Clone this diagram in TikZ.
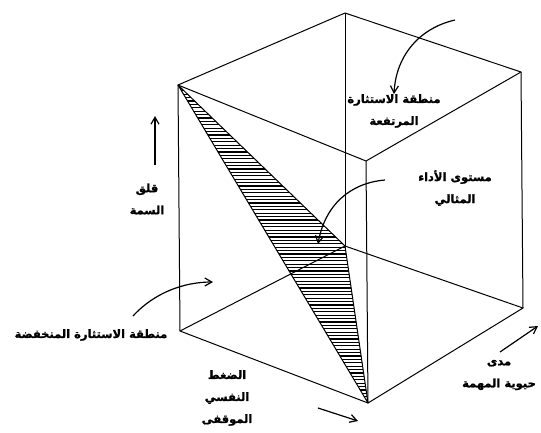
\documentclass[tikz,border=0pt]{standalone}
\usepackage{fontspec}
\usetikzlibrary{arrows.meta}
\newfontfamily\arabicfont[Script=Arabic, BoldFont={DejaVu Sans Bold}, BoldFeatures={FakeBold=1.2}]{DejaVu Sans}
\TeXXeTstate=1
\newcommand{\artext}[1]{\beginR #1\endR}
\tikzset{
	edge line/.style={line width=1pt, line join=round},
	hatch line/.style={line width=1.1pt},
	axis arrow/.style={line width=1.2pt, -{Straight Barb[length=7pt,width=8pt]}},
	ar label/.style={font=\arabicfont\bfseries\fontsize{11.5}{22}\selectfont, align=center, inner sep=0pt},
}
\begin{document}
\begin{tikzpicture}[x=1pt, y=-1pt]
	\useasboundingbox (0,0) rectangle (541,432);
	\coordinate (tl) at (178,85);
	\coordinate (tb) at (345,13);
	\coordinate (tr) at (521,72);
	\coordinate (tf) at (366,161);
	\coordinate (bl) at (180,331);
	\coordinate (bb) at (345,246);
	\coordinate (br) at (523,308);
	\coordinate (bf) at (368,403);
	\begin{scope}
		\clip (tl) -- (bb) -- (bf) -- cycle;
		\foreach \y in {84,87.4,...,406}
			\draw[hatch line] (170,\y) -- (380,\y);
	\end{scope}
	\draw[edge line] (tl) -- (bb) -- (bf) -- cycle;
	\draw[edge line] (tl) -- (tb) -- (tr) -- (tf) -- cycle;
	\draw[edge line] (bl) -- (bb) -- (br) -- (bf) -- cycle;
	\draw[edge line] (tl) -- (bl);
	\draw[edge line] (tb) -- (bb);
	\draw[edge line] (tr) -- (br);
	\draw[edge line] (tf) -- (bf);
	\node[ar label, anchor=north] (high) at (394,94) {\artext{منطقة الاستثارة}\\\artext{المرتفعة}};
	\node[ar label] (optimal) at (455,188) {\artext{مستوى الأداء}\\\artext{المثالي}};
	\node[ar label] (trait) at (147,199) {\artext{قلق}\\\artext{السمة}};
	\node[ar label] (low) at (91,335) {\artext{منطقة الاستثارة المنخفضة}};
	\node[ar label] (stress) at (227,398) {\artext{الضغط}\\\artext{النفسي}\\\artext{الموقفى}};
	\node[ar label] (task) at (499,375) {\artext{مدى}\\\artext{حيوية المهمة}};
	\coordinate (highstart) at (455,20);
	\coordinate (optstart) at (385,180);
	\coordinate (opttip) at (318,244);
	\coordinate (traitstart) at (155,165);
	\coordinate (traittip) at (155,116);
	\coordinate (lowstart) at (133,316);
	\coordinate (lowtip) at (213,282);
	\coordinate (stressstart) at (318,408);
	\coordinate (stresstip) at (358,421);
	\coordinate (taskstart) at (500,352);
	\coordinate (tasktip) at (538,326);
	\draw[axis arrow] (highstart) .. controls (420,28) and (396,55) .. (high.north);
	\draw[axis arrow] (optstart) .. controls (350,183) and (325,205) .. (opttip);
	\draw[axis arrow] (traitstart) -- (traittip);
	\draw[axis arrow] (lowstart) .. controls (155,292) and (185,282) .. (lowtip);
	\draw[axis arrow] (stressstart) -- (stresstip);
	\draw[axis arrow] (taskstart) -- (tasktip);
\end{tikzpicture}
\end{document}
